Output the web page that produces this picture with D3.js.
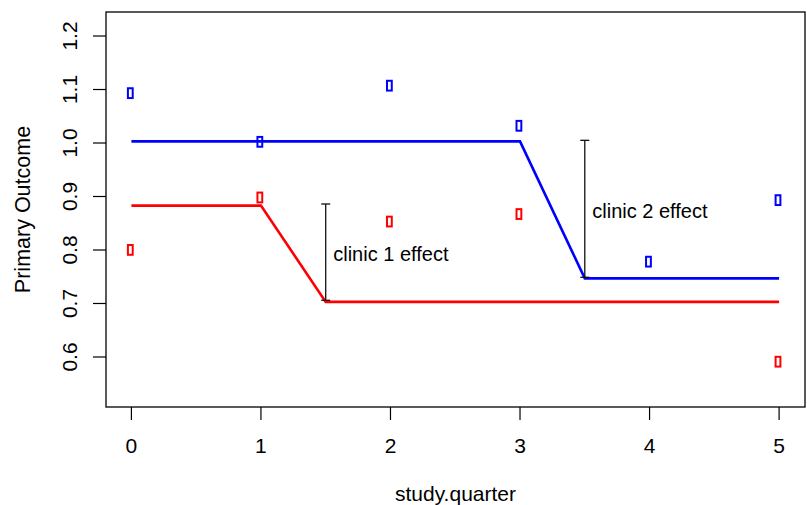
<!DOCTYPE html>
<meta charset="utf-8">
<html>
<head>
<script src="https://cdn.jsdelivr.net/npm/d3@7"></script>
<style>
  body { margin: 0; background: #fff; }
  text { font-family: "Liberation Sans", Arial, sans-serif; fill: #000; }
</style>
</head>
<body>
<div class="chart"></div>
<script>
// observed means per quarter (null = not shown)
var quarters = [0, 1, 2, 3, 4, 5];
var clinic1Obs = [0.800, 0.898, 0.853, 0.867, null, 0.591];
var clinic2Obs = [1.093, 1.002, 1.107, 1.032, 0.778, 0.893];

// fitted step lines
var clinic1FitX = [0, 1, 1.5, 5],
    clinic1FitY = [0.883, 0.883, 0.703, 0.703];
var clinic2FitX = [0, 3, 3.5, 5],
    clinic2FitY = [1.003, 1.003, 0.747, 0.747];

// effect arrows
var effectX = [1.5, 3.5],
    effectLo = [0.706, 0.749],
    effectHi = [0.886, 1.005],
    effectLabel = ["clinic 1 effect", "clinic 2 effect"];

var yTicks = [0.6, 0.7, 0.8, 0.9, 1.0, 1.1, 1.2];

var W = 807, H = 505;
var boxL = 106, boxR = 805, boxT = 12, boxB = 407;

var svg = d3.select(".chart").append("svg")
    .attr("width", W)
    .attr("height", H);

var x = d3.scaleLinear().domain([-0.2, 5.2]).range([boxL - 0.5, boxR]);
var y = d3.scaleLinear().domain([0.5065, 1.2449]).range([boxB, boxT]);

// fitted lines
var line = d3.line()
    .x(function(d){ return x(d[0]); })
    .y(function(d){ return y(d[1]); });

svg.append("path")
    .datum(d3.zip(clinic1FitX, clinic1FitY))
    .attr("d", line)
    .attr("fill", "none")
    .attr("stroke", "#ff0000")
    .attr("stroke-width", 2.6);

svg.append("path")
    .datum(d3.zip(clinic2FitX, clinic2FitY))
    .attr("d", line)
    .attr("fill", "none")
    .attr("stroke", "#0000ff")
    .attr("stroke-width", 2.6);

// observed points
function drawPoints(vals, col) {
    svg.selectAll(null)
        .data(d3.zip(quarters, vals).filter(function(d){ return d[1] !== null; }))
        .enter()
        .append("rect")
        .attr("x", function(d){ return x(d[0]) - 3.5; })
        .attr("y", function(d){ return y(d[1]) - 5; })
        .attr("width", 4.8)
        .attr("height", 9.8)
        .attr("fill", "none")
        .attr("stroke", col)
        .attr("stroke-width", 2);
}
drawPoints(clinic1Obs, "#ff0000");
drawPoints(clinic2Obs, "#0000ff");

// effect arrows with flat heads
effectX.forEach(function(ex, i){
    var g = svg.append("g").attr("stroke", "#111").attr("stroke-width", 1.3);
    g.append("line")
        .attr("x1", x(ex)).attr("x2", x(ex))
        .attr("y1", y(effectLo[i])).attr("y2", y(effectHi[i]));
    [effectLo[i], effectHi[i]].forEach(function(v){
        g.append("line")
            .attr("x1", x(ex) - 4.5).attr("x2", x(ex) + 4.5)
            .attr("y1", y(v)).attr("y2", y(v));
    });
    svg.append("text")
        .attr("x", x(ex) + 7.5)
        .attr("y", y((effectLo[i] + effectHi[i]) / 2) + 9)
        .style("font-size", "20px")
        .text(effectLabel[i]);
});

// box
svg.append("rect")
    .attr("x", boxL).attr("y", boxT)
    .attr("width", boxR - boxL).attr("height", boxB - boxT)
    .attr("fill", "none")
    .attr("stroke", "#000")
    .attr("stroke-width", 1.3);

// x axis
svg.selectAll(".xtick")
    .data(quarters).enter()
    .append("line")
    .attr("x1", function(d){ return x(d); })
    .attr("x2", function(d){ return x(d); })
    .attr("y1", boxB).attr("y2", boxB + 13)
    .attr("stroke", "#000").attr("stroke-width", 1.2);
svg.selectAll(".xlab")
    .data(quarters).enter()
    .append("text")
    .attr("x", function(d){ return x(d); })
    .attr("y", 453)
    .attr("text-anchor", "middle")
    .style("font-size", "21px")
    .text(function(d){ return d; });

// y axis
svg.selectAll(".ytick")
    .data(yTicks).enter()
    .append("line")
    .attr("x1", boxL - 13).attr("x2", boxL)
    .attr("y1", function(d){ return y(d); })
    .attr("y2", function(d){ return y(d); })
    .attr("stroke", "#000").attr("stroke-width", 1.2);
svg.selectAll(".ylab")
    .data(yTicks).enter()
    .append("text")
    .attr("transform", function(d){ return "translate(77," + y(d) + ") rotate(-90)"; })
    .attr("text-anchor", "middle")
    .style("font-size", "21px")
    .text(function(d){ return d3.format(".1f")(d); });

// axis titles
svg.append("text")
    .attr("x", (boxL + boxR) / 2)
    .attr("y", 501)
    .attr("text-anchor", "middle")
    .style("font-size", "21px")
    .text("study.quarter");

svg.append("text")
    .attr("transform", "translate(30," + (boxT + boxB) / 2 + ") rotate(-90)")
    .attr("text-anchor", "middle")
    .style("font-size", "21.5px")
    .text("Primary Outcome");
</script>
</body>
</html>
